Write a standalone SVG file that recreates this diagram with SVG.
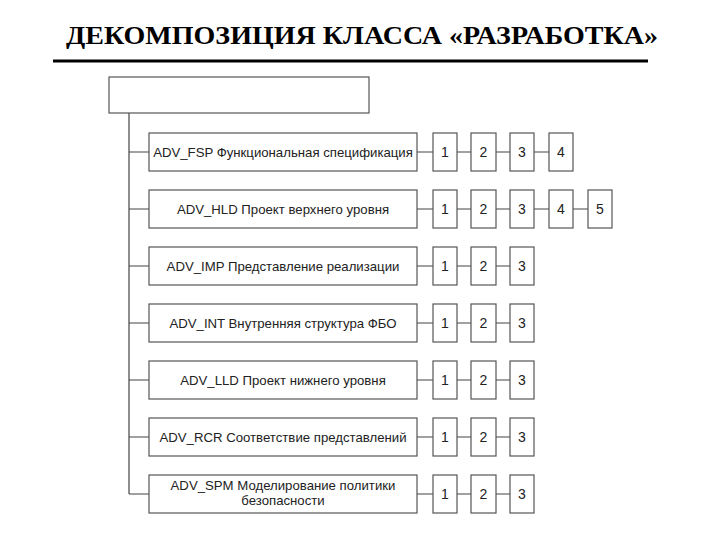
<svg xmlns="http://www.w3.org/2000/svg" width="720" height="540" viewBox="0 0 720 540">
<style>
.box{fill:#fff;stroke:#555;stroke-width:1.2}
.lbl{font-family:"Liberation Sans",Arial,sans-serif;font-size:13.2px;fill:#222}
.num{font-family:"Liberation Sans",Arial,sans-serif;font-size:14px;fill:#222;text-anchor:middle}
.ln{stroke:#444;stroke-width:1.2;fill:none}
</style>
<rect width="720" height="540" fill="#fff"/>
<text x="66" y="44" font-family="'Liberation Serif', 'Times New Roman', serif" font-weight="bold" font-size="26" fill="#000" textLength="592" lengthAdjust="spacingAndGlyphs">ДЕКОМПОЗИЦИЯ КЛАССА «РАЗРАБОТКА»</text>
<line x1="53" y1="61" x2="648" y2="61" stroke="#000" stroke-width="3"/>
<g id="connectors">
<path class="ln" d="M129,113 V494 M129,152 H149 M129,209 H149 M129,266 H149 M129,323 H149 M129,380 H149 M129,437 H149 M129,494 H149"/>
<path class="ln" d="M417,152 H433 M457,152 H471 M496,152 H510 M534,152 H549"/>
<path class="ln" d="M417,209 H433 M457,209 H471 M496,209 H510 M534,209 H549 M573,209 H588"/>
<path class="ln" d="M417,266 H433 M457,266 H471 M496,266 H510"/>
<path class="ln" d="M417,323 H433 M457,323 H471 M496,323 H510"/>
<path class="ln" d="M417,380 H433 M457,380 H471 M496,380 H510"/>
<path class="ln" d="M417,437 H433 M457,437 H471 M496,437 H510"/>
<path class="ln" d="M417,494 H433 M457,494 H471 M496,494 H510"/>
</g>
<g id="root"><rect class="box" x="109" y="77" width="260" height="36"/></g>
<g id="fsp"><rect class="box" x="149" y="133" width="268" height="38"/><text class="lbl" x="283" y="157" text-anchor="middle">ADV_FSP Функциональная спецификация</text></g>
<g id="hld"><rect class="box" x="149" y="190" width="268" height="38"/><text class="lbl" x="283" y="214" text-anchor="middle">ADV_HLD Проект верхнего уровня</text></g>
<g id="imp"><rect class="box" x="149" y="247" width="268" height="38"/><text class="lbl" x="283" y="271" text-anchor="middle">ADV_IMP Представление реализации</text></g>
<g id="int"><rect class="box" x="149" y="304" width="268" height="38"/><text class="lbl" x="283" y="328" text-anchor="middle">ADV_INT Внутренняя структура ФБО</text></g>
<g id="lld"><rect class="box" x="149" y="361" width="268" height="38"/><text class="lbl" x="283" y="385" text-anchor="middle">ADV_LLD Проект нижнего уровня</text></g>
<g id="rcr"><rect class="box" x="149" y="418" width="268" height="38"/><text class="lbl" x="283" y="442" text-anchor="middle">ADV_RCR Соответствие представлений</text></g>
<g id="spm"><rect class="box" x="149" y="475" width="268" height="38"/><text class="lbl" x="283" y="490" text-anchor="middle">ADV_SPM Моделирование политики</text><text class="lbl" x="283" y="505" text-anchor="middle">безопасности</text></g>
<g id="fsp-levels">
<rect class="box" x="433" y="133" width="24" height="38"/><text class="num" x="445" y="157">1</text>
<rect class="box" x="471" y="133" width="25" height="38"/><text class="num" x="483.5" y="157">2</text>
<rect class="box" x="510" y="133" width="24" height="38"/><text class="num" x="522" y="157">3</text>
<rect class="box" x="549" y="133" width="24" height="38"/><text class="num" x="561" y="157">4</text>
</g>
<g id="hld-levels">
<rect class="box" x="433" y="190" width="24" height="38"/><text class="num" x="445" y="214">1</text>
<rect class="box" x="471" y="190" width="25" height="38"/><text class="num" x="483.5" y="214">2</text>
<rect class="box" x="510" y="190" width="24" height="38"/><text class="num" x="522" y="214">3</text>
<rect class="box" x="549" y="190" width="24" height="38"/><text class="num" x="561" y="214">4</text>
<rect class="box" x="588" y="190" width="24" height="38"/><text class="num" x="600" y="214">5</text>
</g>
<g id="imp-levels">
<rect class="box" x="433" y="247" width="24" height="38"/><text class="num" x="445" y="271">1</text>
<rect class="box" x="471" y="247" width="25" height="38"/><text class="num" x="483.5" y="271">2</text>
<rect class="box" x="510" y="247" width="24" height="38"/><text class="num" x="522" y="271">3</text>
</g>
<g id="int-levels">
<rect class="box" x="433" y="304" width="24" height="38"/><text class="num" x="445" y="328">1</text>
<rect class="box" x="471" y="304" width="25" height="38"/><text class="num" x="483.5" y="328">2</text>
<rect class="box" x="510" y="304" width="24" height="38"/><text class="num" x="522" y="328">3</text>
</g>
<g id="lld-levels">
<rect class="box" x="433" y="361" width="24" height="38"/><text class="num" x="445" y="385">1</text>
<rect class="box" x="471" y="361" width="25" height="38"/><text class="num" x="483.5" y="385">2</text>
<rect class="box" x="510" y="361" width="24" height="38"/><text class="num" x="522" y="385">3</text>
</g>
<g id="rcr-levels">
<rect class="box" x="433" y="418" width="24" height="38"/><text class="num" x="445" y="442">1</text>
<rect class="box" x="471" y="418" width="25" height="38"/><text class="num" x="483.5" y="442">2</text>
<rect class="box" x="510" y="418" width="24" height="38"/><text class="num" x="522" y="442">3</text>
</g>
<g id="spm-levels">
<rect class="box" x="433" y="475" width="24" height="38"/><text class="num" x="445" y="499">1</text>
<rect class="box" x="471" y="475" width="25" height="38"/><text class="num" x="483.5" y="499">2</text>
<rect class="box" x="510" y="475" width="24" height="38"/><text class="num" x="522" y="499">3</text>
</g>
</svg>
